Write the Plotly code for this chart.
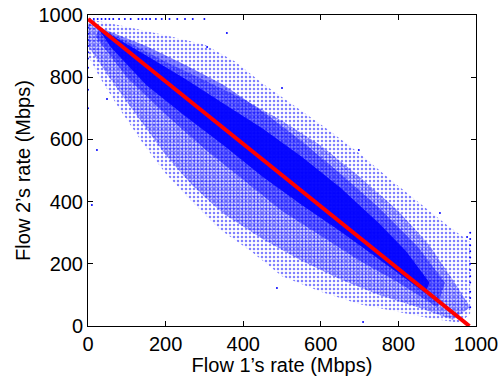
import plotly.graph_objects as go

# Regions of the point cloud (vertices in Mbps)
halo_x = [0, 90, 200, 300, 380, 450, 530, 620, 700, 780, 860, 930, 985, 985, 960, 880, 800, 700, 600, 500, 420, 340, 260, 200, 140, 80, 30, 0]
halo_y = [987, 965, 935, 905, 850, 780, 710, 630, 555, 470, 390, 320, 270, 40, 10, 25, 45, 70, 110, 160, 240, 310, 410, 490, 590, 700, 800, 870]
mid_x = [0, 100, 200, 300, 400, 500, 600, 700, 800, 880, 950, 985, 940, 850, 750, 650, 550, 450, 350, 270, 200, 130, 60, 0]
mid_y = [975, 915, 850, 790, 730, 660, 580, 480, 370, 260, 130, 60, 20, 60, 100, 150, 210, 280, 360, 450, 550, 670, 790, 900]
dense_x = [30, 150, 250, 350, 450, 550, 650, 750, 850, 920, 900, 800, 700, 600, 500, 400, 300, 200, 100, 20]
dense_y = [960, 900, 840, 775, 690, 595, 490, 380, 255, 140, 60, 140, 210, 290, 370, 470, 570, 680, 800, 930]
core_x = [40, 150, 250, 350, 450, 550, 650, 750, 820, 880, 870, 750, 650, 550, 450, 350, 250, 150, 60, 30]
core_y = [950, 870, 795, 715, 635, 545, 445, 330, 240, 140, 105, 215, 305, 390, 480, 580, 675, 775, 895, 950]

# Isolated points
out_x = [5, 15, 25, 35, 45, 55, 65, 80, 95, 110, 130, 140, 150, 160, 175, 190, 210, 230, 250, 270, 300,
         0, 0, 0, 0, 0, 0, 0, 0, 0, 0,
         985, 985, 985, 985, 985, 985, 985, 985, 985, 985, 985, 985,
         487, 709, 977, 907, 358, 307, 49, 23, 10, 698, 500]
out_y = [987, 987, 987, 987, 987, 987, 987, 987, 987, 987, 987, 987, 987, 987, 987, 987, 987, 987, 987, 987, 987,
         700, 760, 800, 830, 860, 880, 900, 920, 940, 960,
         60, 90, 110, 140, 160, 180, 200, 220, 240, 260, 280, 300,
         122, 13, 286, 363, 942, 897, 730, 566, 389, 566, 765]

# Fair-share line
line_x = [0, 983]
line_y = [987, 0]

x_ticks = [0, 200, 400, 600, 800, 1000]
y_ticks = [0, 200, 400, 600, 800, 1000]

fig = go.Figure()
fig.add_trace(go.Scatter(x=halo_x, y=halo_y, mode="none", fill="toself",
                         fillcolor="rgba(0,0,255,0)",
                         fillpattern=dict(shape=".", fgcolor="blue", bgcolor="rgba(0,0,0,0)", size=4, solidity=0.3),
                         hoverinfo="skip"))
fig.add_trace(go.Scatter(x=mid_x, y=mid_y, mode="none", fill="toself",
                         fillcolor="rgba(0,0,255,0)",
                         fillpattern=dict(shape=".", fgcolor="blue", bgcolor="rgba(0,0,0,0)", size=3, solidity=0.7),
                         hoverinfo="skip"))
fig.add_trace(go.Scatter(x=dense_x, y=dense_y, mode="none", fill="toself",
                         fillcolor="rgba(0,0,255,0.45)", hoverinfo="skip"))
fig.add_trace(go.Scatter(x=core_x, y=core_y, mode="none", fill="toself",
                         fillcolor="rgba(0,0,255,0.9)", hoverinfo="skip"))
fig.add_trace(go.Scatter(x=out_x, y=out_y, mode="markers",
                         marker=dict(color="blue", size=2, line=dict(width=0)), hoverinfo="skip"))
fig.add_trace(go.Scatter(x=line_x, y=line_y, mode="lines",
                         line=dict(color="red", width=4), hoverinfo="skip"))

font = dict(family="Liberation Sans, Arial", size=20, color="black")
axis_common = dict(showline=True, linecolor="black", linewidth=1, mirror="ticks",
                   ticks="inside", ticklen=5, tickcolor="black", showgrid=False, zeroline=False,
                   tickfont=font, automargin=False)
fig.update_xaxes(range=[0, 1000], tickvals=x_ticks, **axis_common,
                 title=dict(text="Flow 1’s rate (Mbps)", font=font, standoff=0))
fig.update_yaxes(range=[0, 1000], tickvals=y_ticks, **axis_common,
                 title=dict(text="Flow 2’s rate (Mbps)", font=font, standoff=2))
fig.update_layout(width=500, height=376, margin=dict(l=88, r=24, t=15, b=50),
                  paper_bgcolor="white", plot_bgcolor="white", showlegend=False)
fig.write_html("out.html")
